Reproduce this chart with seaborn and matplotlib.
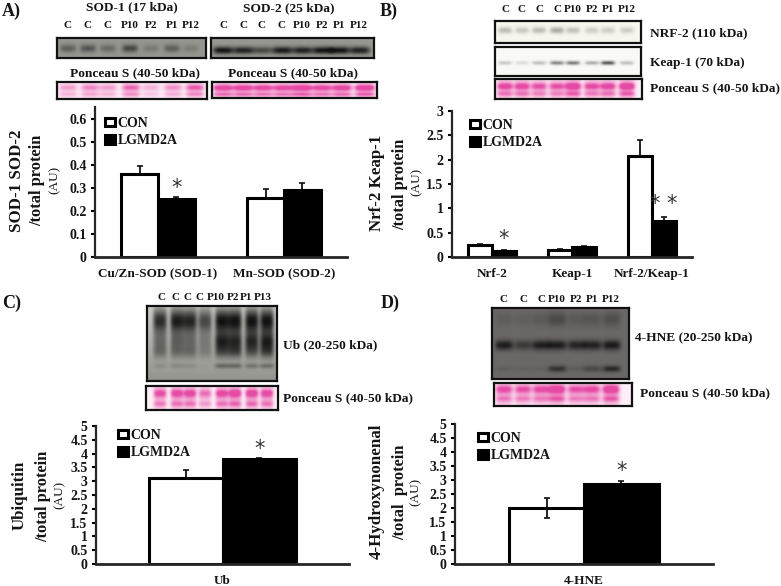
#Recreates the four panel figure: western blots above bar charts
# -*- coding: utf-8 -*-

import numpy as np
import pandas as pd
import matplotlib
matplotlib.use("Agg")
import matplotlib.pyplot as plt
import seaborn as sns

#### Chart values
groups = ["CON", "LGMD2A"]

sod_cats = ["Cu/Zn-SOD (SOD-1)", "Mn-SOD (SOD-2)"]
sod_con = [0.36, 0.255]
sod_lgmd = [0.25, 0.29]
sod_con_err = [0.036, 0.04]
sod_lgmd_err = [0.011, 0.033]
sod_ticks = [0, 0.1, 0.2, 0.3, 0.4, 0.5, 0.6]

nrf_cats = ["Nrf-2", "Keap-1", "Nrf-2/Keap-1"]
nrf_con = [0.24, 0.14, 2.08]
nrf_lgmd = [0.13, 0.20, 0.75]
nrf_con_err = [0.02, 0.03, 0.32]
nrf_lgmd_err = [0.01, 0.03, 0.08]
nrf_ticks = [0, 0.5, 1, 1.5, 2, 2.5, 3]

ub_cats = ["Ub"]
ub_con = [3.12]
ub_lgmd = [3.80]
ub_con_err = [0.30]
ub_lgmd_err = [0.03]

hne_cats = ["4-HNE"]
hne_con = [2.0]
hne_lgmd = [2.85]
hne_con_err = [0.37]
hne_lgmd_err = [0.12]
five_ticks = [0, 0.5, 1, 1.5, 2, 2.5, 3, 3.5, 4, 4.5, 5]

#### Lane labels
sod1_lanes = ["C", "C", "C", "P10", "P2", "P1", "P12"]
sod2_lanes = ["C", "C", "C", "C", "P10", "P2", "P1", "P12"]
nrf_lanes = ["C", "C", "C", "C", "P10", "P2", "P1", "P12"]
ub_lanes = ["C", "C", "C", "C", "P10", "P2", "P1", "P13"]
hne_lanes = ["C", "C", "C", "P10", "P2", "P1", "P12"]

#### Band strengths per lane, estimated by eye
sod1_band = [0.55, 0.65, 0.45, 0.8, 0.3, 0.55, 0.25]
sod2_band = [1.0, 0.9, 0.6, 0.95, 0.9, 1.0, 1.0, 0.9]
nrf2_band = [0.5, 0.4, 0.5, 0.65, 0.45, 0.35, 0.35, 0.35]
keap_band = [0.25, 0.15, 0.3, 0.6, 0.65, 0.4, 0.85, 0.3]
hne_main = [0.95, 0.6, 0.95, 0.95, 0.85, 0.9, 1.0]
hne_upper = [0.15, 0.12, 0.2, 0.4, 0.2, 0.25, 0.35]
hne_lower = [0.12, 0.08, 0.08, 0.7, 0.15, 0.4, 0.8]
ub_top = [0.85, 0.95, 0.9, 0.7, 1.0, 1.0, 1.0, 1.0]
ub_mid = [0.4, 0.45, 0.4, 0.3, 0.85, 0.8, 0.8, 0.85]
ub_low = [0.3, 0.3, 0.3, 0.2, 0.4, 0.45, 0.35, 0.45]
ub_foot = [0.12, 0.15, 0.12, 0.03, 0.4, 0.4, 0.3, 0.35]
ponceau_a1 = [0.35, 0.45, 0.35, 0.6, 0.25, 0.4, 0.65]
ponceau_a2 = [0.85, 0.85, 0.8, 0.8, 0.95, 0.8, 0.85, 0.95]
ponceau_b = [0.8, 0.8, 0.7, 0.7, 0.95, 0.75, 0.8, 0.95]
ponceau_c = [0.75, 0.8, 0.8, 0.55, 0.8, 0.9, 0.85, 0.8]
ponceau_d = [0.75, 0.7, 0.75, 0.95, 0.7, 0.75, 0.95]

W, H = 781, 586
sns.set_theme(style="ticks")
plt.rcParams["font.family"] = ["Liberation Serif", "DejaVu Sans"]
plt.rcParams["font.weight"] = "bold"

fig = plt.figure(figsize=(W / 100, H / 100), dpi=100, facecolor="white")


def px_axes(x0, y0, x1, y1):
    #axes from pixel box, y counted from the top of the picture
    return fig.add_axes([x0 / W, 1 - y1 / H, (x1 - x0) / W, (y1 - y0) / H])


def txt(x, y, s, size=9.6, rotation=0, weight="bold", ha="center", **kw):
    fig.text(x / W, 1 - y / H, s, fontsize=size, rotation=rotation, fontweight=weight,
             ha=ha, va="center", color="#141414", **kw)


def blot(box, lane_x, bands, bg, fg, lane_w, bg_low=None):
    """Draw a blot strip. bands = list of (y fraction, y spread, strength per lane)"""
    x0, y0, x1, y1 = box
    nx, ny = (x1 - x0) * 3, (y1 - y0) * 3
    xs = np.linspace(x0, x1, nx)[None, :]
    ys = np.linspace(0, 1, ny)[:, None]
    dark = np.zeros((ny, nx))
    for pos, spread, strengths in bands:
        for lx, s in zip(lane_x, strengths):
            dark += s * np.exp(-((xs - lx) / lane_w) ** 4) * np.exp(-((ys - pos) / spread) ** 2)
    dark = np.clip(dark, 0, 1)[..., None]
    #background can fade from top to bottom
    low = np.array(bg_low if bg_low is not None else bg)
    back = (np.array(bg) * (1 - ys[..., None]) + low * ys[..., None])
    img = (back * (1 - dark) + np.array(fg) * dark) / 255
    ax = px_axes(*box)
    ax.imshow(img, aspect="auto", interpolation="bilinear")
    ax.set_xticks([])
    ax.set_yticks([])
    for sp in ax.spines.values():
        sp.set_linewidth(1.6)
        sp.set_color("#111111")


def ponceau(box, lane_x, strengths, lane_w, top=0.32, low=0.72):
    #pale wash in each lane, a strong upper band and a weaker lower one
    wash = [s * 0.5 for s in strengths]
    weak = [s * 0.55 for s in strengths]
    bands = [(0.5, 0.7, wash), (top, 0.17, strengths), (low, 0.12, weak)]
    blot(box, lane_x, bands, (253, 240, 248), (230, 75, 165), lane_w)


def bar_panel(box, cats, con, lgmd, con_err, lgmd_err, ymax, ticks, legend_xy, width,
              stars, con_low=None):
    df = pd.DataFrame({
        "cat": cats * 2,
        "group": [groups[0]] * len(cats) + [groups[1]] * len(cats),
        "value": con + lgmd,
    })
    ax = px_axes(*box)
    sns.barplot(data=df, x="cat", y="value", hue="group", hue_order=groups,
                palette={"CON": "white", "LGMD2A": "black"}, saturation=1, width=width,
                gap=0, errorbar=None, edgecolor="black", linewidth=2.2, ax=ax, zorder=3)
    lows = [con_low if con_low is not None else [0] * len(cats), [0] * len(cats)]
    for cont, errs, low in zip(ax.containers, [con_err, lgmd_err], lows):
        for bar, e, l in zip(cont, errs, low):
            ax.errorbar(bar.get_x() + bar.get_width() / 2, bar.get_height(), yerr=[[l], [e]],
                        color="#111111", elinewidth=1.3, capsize=2.2, capthick=1.2, zorder=2 if l == 0 else 4)
    ax.set_xlim(-0.5, len(cats) - 0.5)
    ax.set_ylim(0, ymax)
    ax.set_yticks(ticks)
    ax.set_yticklabels([f"{t:g}" for t in ticks], fontsize=10, fontweight="bold", color="#141414")
    ax.tick_params(axis="y", length=3, width=1.5, pad=3, color="black")
    ax.tick_params(axis="x", length=0, pad=8, labelsize=9.5, labelcolor="#141414")
    ax.set_xlabel("")
    ax.set_ylabel("")
    sns.despine(ax=ax)
    ax.spines["left"].set_linewidth(1.6)
    ax.spines["bottom"].set_linewidth(2.0)
    ax.spines["bottom"].set_zorder(6)
    handles, labels = ax.get_legend_handles_labels()
    leg = ax.legend(handles, labels, loc="upper left", frameon=False, fontsize=10,
                    bbox_to_anchor=(legend_xy[0] / W, 1 - legend_xy[1] / H), bbox_transform=fig.transFigure,
                    handlelength=0.72, handleheight=0.55, handletextpad=0.2, labelspacing=0.32,
                    borderpad=0, borderaxespad=0)
    for t in leg.get_texts():
        t.set_color("#141414")
    for i, hue, yval, s in stars:
        bar = ax.containers[hue][i]
        ax.text(bar.get_x() + bar.get_width() / 2, yval, s, fontsize=15, family="DejaVu Sans",
                fontweight="normal", ha="center", va="center", color="#333333")
    return ax


#### Panel A
txt(2, 11, "A)", size=13, ha="left")
txt(132, 7, "SOD-1 (17 kDa)")
txt(289, 8, "SOD-2 (25 kDa)")
sod1_x = [68, 88, 108, 130, 151, 172, 191]
sod2_x = [223, 243, 262, 282, 302, 322, 339, 359]
for x, s in zip(sod1_x, sod1_lanes):
    txt(x, 26, s, size=8)
for x, s in zip(sod2_x, sod2_lanes):
    txt(x, 26, s, size=8)
blot((57, 38, 206, 58), sod1_x, [(0.52, 0.2, sod1_band)], (150, 150, 145), (50, 50, 50), 8)
blot((211, 38, 374, 58), sod2_x, [(0.62, 0.19, sod2_band)], (152, 152, 146), (20, 20, 20), 10)
txt(135, 73, "Ponceau S (40-50 kDa)")
txt(293, 73, "Ponceau S (40-50 kDa)")
ponceau((57, 82, 207, 99), [68, 90, 108, 131, 151, 173, 195], ponceau_a1, 9)
ponceau((212, 82, 377, 98), [223, 243, 263, 283, 302, 322, 342, 365], ponceau_a2, 10, top=0.36, low=0.78)
bar_panel((95, 107, 347, 257), sod_cats, sod_con, sod_lgmd, sod_con_err, sod_lgmd_err,
          0.652, sod_ticks, (105, 117), 0.58, [(0, 1, 0.30, "*")])
txt(17, 181, "SOD-1 SOD-2", size=12.2, rotation=90)
txt(37, 180, "/total protein", size=11.8, rotation=90)
txt(55, 180, "(AU)", size=9.5, rotation=90, weight="normal")

#### Panel B
txt(380, 11, "B)", size=13, ha="left")
nrf_x = [505, 522, 539, 557, 573, 592, 608, 627]
for x, s in zip(nrf_x, nrf_lanes):
    txt(x, 10, s, size=8)
blot((495, 21, 641, 43), nrf_x, [(0.42, 0.15, nrf2_band)], (247, 247, 240), (130, 130, 120), 7)
blot((495, 47, 641, 76), nrf_x, [(0.55, 0.07, keap_band)], (250, 250, 247), (60, 60, 55), 7)
ponceau((495, 79, 642, 99), nrf_x, ponceau_b, 8, top=0.36, low=0.74)
txt(650, 33, "NRF-2 (110 kDa)", ha="left")
txt(650, 63, "Keap-1 (70 kDa)", ha="left")
txt(650, 88, "Ponceau S (40-50 kDa)", ha="left")
bar_panel((452, 111, 692, 257), nrf_cats, nrf_con, nrf_lgmd, nrf_con_err, nrf_lgmd_err,
          3, nrf_ticks, (470, 119), 0.6, [(0, 1, 0.38, "*"), (2, 1, 1.08, "* *")])
txt(377, 183, "Nrf-2 Keap-1", size=12.2, rotation=90)
txt(400, 184, "/total protein", size=11.8, rotation=90)
txt(417, 182, "(AU)", size=9.5, rotation=90, weight="normal")

#### Panel C
txt(2, 303, "C)", size=13, ha="left")
ub_x = [160, 177, 190, 205, 222, 235, 252, 267]
ub_label_x = [161, 176, 187, 199, 216, 233, 246, 263]
for x, s in zip(ub_label_x, ub_lanes):
    txt(x, 298, s, size=8)
blot((147, 306, 277, 381), ub_x,
     [(0.2, 0.17, ub_top), (0.48, 0.13, ub_mid), (0.62, 0.09, ub_low), (0.8, 0.035, ub_foot)],
     (205, 205, 200), (18, 18, 18), 7, bg_low=(148, 148, 142))
ponceau((146, 386, 278, 410), ub_x, ponceau_c, 6.5, top=0.3, low=0.75)
txt(283, 345, "Ub (20-250 kDa)", ha="left")
txt(283, 398, "Ponceau S (40-50 kDa)", ha="left")
bar_panel((96, 426, 349, 564), ub_cats, ub_con, ub_lgmd, ub_con_err, ub_lgmd_err,
          5, five_ticks, (118, 429), 0.58, [(0, 1, 4.18, "*")])
txt(20, 495, "Ubiquitin", size=12.2, rotation=90)
txt(43, 496, "/total protein", size=11.8, rotation=90)
txt(60, 495, "(AU)", size=9.5, rotation=90, weight="normal")

#### Panel D
txt(381, 303, "D)", size=13, ha="left")
hne_x = [504, 523, 541, 557, 576, 592, 611]
for x, s in zip(hne_x, hne_lanes):
    txt(x, 299, s, size=8)
blot((492, 308, 629, 379), hne_x,
     [(0.17, 0.1, hne_upper), (0.53, 0.07, hne_main), (0.86, 0.045, hne_lower)],
     (108, 104, 104), (25, 25, 25), 9)
ponceau((494, 383, 632, 406), hne_x, ponceau_d, 8.5, top=0.3, low=0.7)
txt(635, 337, "4-HNE (20-250 kDa)", ha="left")
txt(640, 393, "Ponceau S (40-50 kDa)", ha="left")
bar_panel((455, 424, 713, 564), hne_cats, hne_con, hne_lgmd, hne_con_err, hne_lgmd_err,
          5, five_ticks, (478, 432), 0.58, [(0, 1, 3.33, "*")], con_low=hne_con_err)
txt(377, 491, "4-Hydroxynonenal", size=12.2, rotation=90)
txt(400, 492, "/total  protein", size=11.8, rotation=90)
txt(416, 492, "(AU)", size=9.5, rotation=90, weight="normal")

fig.savefig("out.png", dpi=100)
plt.close(fig)
